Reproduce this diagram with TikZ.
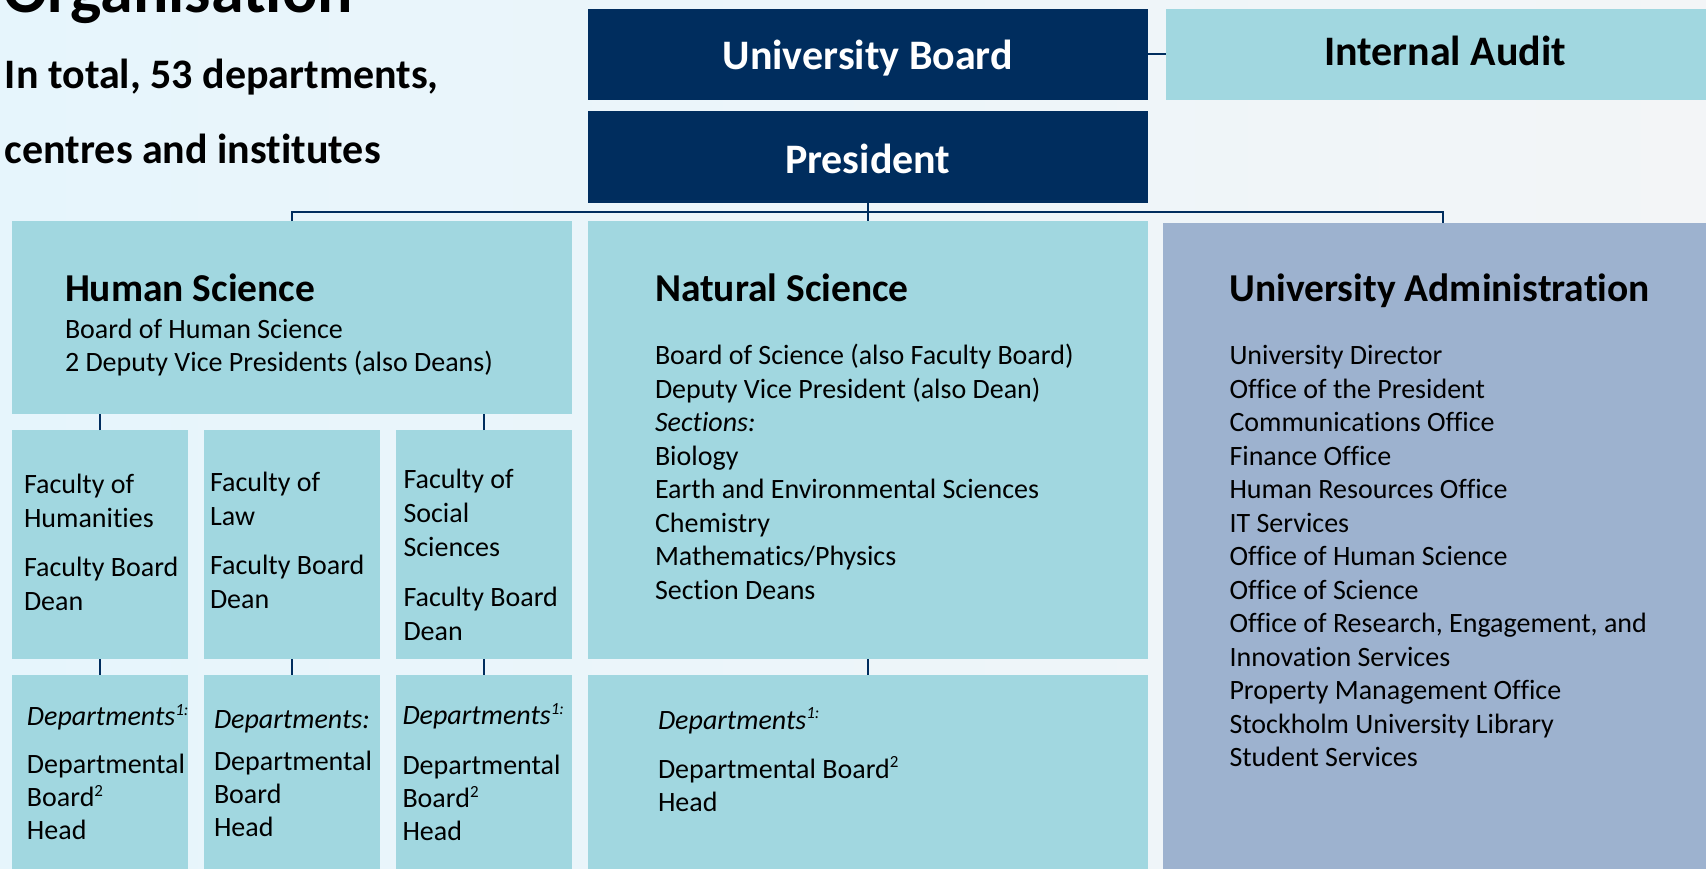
\documentclass[tikz,border=0pt]{standalone}
\usepackage{fontspec}
\setmainfont{Carlito}[Ligatures={TeX,NoCommon}]
\definecolor{navy}{HTML}{002D5E}
\definecolor{lteal}{HTML}{A1D7E0}
\definecolor{lav}{HTML}{9DB2CF}
\definecolor{bgA}{HTML}{E6F5FC}
\definecolor{bgB}{HTML}{F3F5F7}
\newcommand\stk[1]{\vtop{\halign{##\hfil\cr#1\crcr}}}
\newcommand\sups[1]{\raisebox{0.36em}{\fontsize{17}{17}\selectfont #1}}
\begin{document}
\begin{tikzpicture}[x=1pt,y=-1pt,
  navybox/.style={fill=navy, draw=none, inner sep=0pt, outer sep=0pt, anchor=north west},
  tealbox/.style={fill=lteal, draw=none, inner sep=0pt, outer sep=0pt, anchor=north west},
  lavbox/.style={fill=lav, draw=none, inner sep=0pt, outer sep=0pt, anchor=north west},
  txt/.style={inner sep=0pt, outer sep=0pt, anchor=base west, text=black},
  body/.style={txt, font=\fontsize{28}{33.5}\selectfont},
  fbody/.style={txt, font=\fontsize{28}{34}\selectfont},
  dbody/.style={txt, font=\fontsize{28}{33}\selectfont},
  head/.style={txt, font=\bfseries\fontsize{39.5}{45}\selectfont},
  big/.style={inner sep=0pt, outer sep=0pt, anchor=base, font=\bfseries\fontsize{42}{48}\selectfont},
  conn/.style={draw=navy, line width=2pt}]
\useasboundingbox (0,0) rectangle (1706,868);
\clip (0,0) rectangle (1706,868);
\shade[left color=bgA, right color=bgB] (0,0) rectangle (1706,868);

% title
\node[txt, font=\bfseries\fontsize{66}{72}\selectfont] (org) at (3,12) {Organisation};
\node[txt, font=\bfseries\fontsize{42}{48}\selectfont] (intro1) at (5,88) {In total, 53 departments,};
\node[txt, font=\bfseries\fontsize{42}{48}\selectfont] (intro2) at (5,163) {centres and institutes};

% top boxes
\node[navybox, minimum width=560.5pt, minimum height=91.3pt] (ub) at (587.5,8.7) {};
\node[big, text=white] (ubt) at (867.75,69.6) {University Board};
\node[navybox, minimum width=560.5pt, minimum height=92pt] (pres) at (587.5,111) {};
\node[big, text=white] (prest) at (867.75,173) {President};
\node[tealbox, minimum width=545pt, minimum height=91.3pt] (ia) at (1166,8.7) {};
\node[big, text=black] (iat) at (1445,65) {Internal Audit};

% main boxes
\node[tealbox, minimum width=560pt, minimum height=193pt] (hs) at (12,221) {};
\node[tealbox, minimum width=560.5pt, minimum height=438pt] (ns) at (587.5,221) {};
\node[lavbox, minimum width=548pt, minimum height=650pt] (ua) at (1163,223) {};

% faculty boxes
\node[tealbox, minimum width=176pt, minimum height=229pt] (fhum) at (12,430) {};
\node[tealbox, minimum width=176pt, minimum height=229pt] (flaw) at (204,430) {};
\node[tealbox, minimum width=176pt, minimum height=229pt] (fsoc) at (396,430) {};

% department boxes
\node[tealbox, minimum width=176pt, minimum height=198pt] (dhum) at (12,675) {};
\node[tealbox, minimum width=176pt, minimum height=198pt] (dlaw) at (204,675) {};
\node[tealbox, minimum width=176pt, minimum height=198pt] (dsoc) at (396,675) {};
\node[tealbox, minimum width=560.5pt, minimum height=198pt] (dns) at (587.5,675) {};

% connectors
\coordinate (busL) at (292,212);
\coordinate (busR) at (1443,212);
\draw[conn] (ub.east) -- (ia.west);
\draw[conn] (pres.south) -- (ns.north);
\draw[conn] (busL |- hs.north) -- (busL) -- (busR) -- (busR |- ua.north);
\draw[conn] (fhum.north) -- (fhum.north |- hs.south);
\draw[conn] (fsoc.north) -- (fsoc.north |- hs.south);
\draw[conn] (fhum.south) -- (dhum.north);
\draw[conn] (flaw.south) -- (dlaw.north);
\draw[conn] (fsoc.south) -- (dsoc.north);
\draw[conn] (ns.south) -- (dns.north);

% Human Science
\node[head] (hsh) at (65,301) {Human Science};
\node[body] (hsb) at (65,338) {\stk{Board of Human Science\cr 2 Deputy Vice Presidents (also Deans)}};

% Natural Science
\node[head] (nsh) at (655,301) {Natural Science};
\node[body] (nsb) at (655,364.5) {\stk{Board of Science (also Faculty Board)\cr
Deputy Vice President (also Dean)\cr
\textit{Sections:}\cr
Biology\cr
Earth and Environmental Sciences\cr
Chemistry\cr
Mathematics/Physics\cr
Section Deans}};

% University Administration
\node[head] (uah) at (1229.5,301) {University Administration};
\node[body] (uab) at (1229.5,364.5) {\stk{University Director\cr
Office of the President\cr
Communications Office\cr
Finance Office\cr
Human Resources Office\cr
IT Services\cr
Office of Human Science\cr
Office of Science\cr
Office of Research, Engagement, and\cr
Innovation Services\cr
Property Management Office\cr
Stockholm University Library\cr
Student Services}};

% faculties
\node[fbody] (fhumt) at (24,493) {\stk{Faculty of\cr Humanities\cr\noalign{\vskip15pt} Faculty Board\cr Dean}};
\node[fbody] (flawt) at (210,491) {\stk{Faculty of\cr Law\cr\noalign{\vskip15pt} Faculty Board\cr Dean}};
\node[fbody] (fsoct) at (403.5,488.5) {\stk{Faculty of\cr Social\cr Sciences\cr\noalign{\vskip16pt} Faculty Board\cr Dean}};

% departments
\node[dbody] (dhumt) at (27,725.7) {\stk{\textit{Departments\sups{1:}}\cr\noalign{\vskip15pt} Departmental\cr Board\sups{2}\cr Head}};
\node[dbody] (dlawt) at (214,728) {\stk{\textit{Departments:}\cr\noalign{\vskip9pt} Departmental\cr Board\cr Head}};
\node[dbody] (dsoct) at (402.5,724.6) {\stk{\textit{Departments\sups{1:}}\cr\noalign{\vskip17pt} Departmental\cr Board\sups{2}\cr Head}};
\node[dbody] (dnst) at (658,729) {\stk{\textit{Departments\sups{1:}}\cr\noalign{\vskip16pt} Departmental Board\sups{2}\cr Head}};
\end{tikzpicture}
\end{document}
